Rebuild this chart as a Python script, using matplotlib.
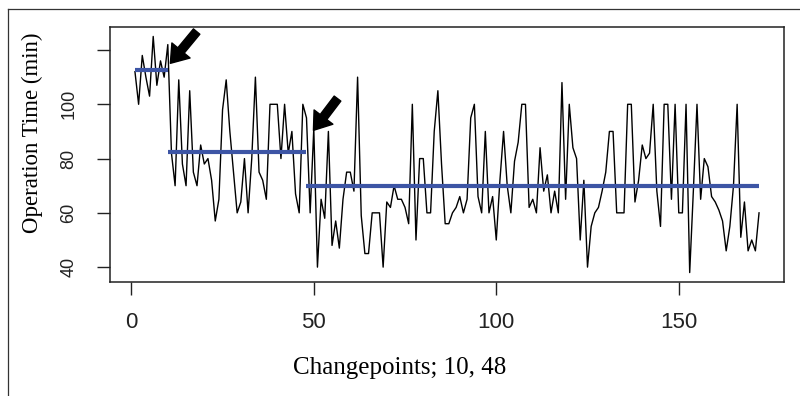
import matplotlib.pyplot as plt
import numpy as np
from matplotlib.lines import Line2D

# Operation time per case (min)
op_time = [
    112, 100, 118, 110, 103, 125, 107, 116, 110, 122,
    82, 70, 109, 78, 70, 105, 75, 70, 85, 78,
    80, 72, 57, 65, 98, 109, 90, 75, 60, 64,
    80, 60, 80, 110, 75, 72, 65, 100, 100, 100,
    80, 100, 82, 90, 67, 60, 100, 95, 60, 91,
    40, 65, 58, 90, 48, 57, 47, 65, 75, 75,
    68, 110, 59, 45, 45, 60, 60, 60, 40, 64,
    62, 70, 65, 65, 62, 56, 100, 50, 80, 80,
    60, 60, 90, 105, 78, 56, 56, 60, 62, 66,
    60, 65, 95, 100, 66, 60, 90, 60, 66, 50,
    72, 90, 70, 60, 79, 86, 100, 100, 62, 65,
    60, 84, 68, 74, 60, 68, 60, 108, 65, 100,
    84, 80, 50, 72, 40, 55, 60, 62, 68, 75,
    90, 90, 60, 60, 60, 100, 100, 64, 72, 85,
    80, 82, 100, 68, 55, 100, 100, 65, 100, 60,
    60, 100, 38, 68, 100, 65, 80, 77, 66, 64,
    61, 57, 46, 55, 70, 100, 51, 64, 46, 50,
    46, 60,
]

# segment means between changepoints 10 and 48
seg_start = [1, 10, 48]
seg_end = [10, 48, 172]
seg_mean = [112.8, 82.3, 69.9]

# arrows marking the changepoints: (tip x, tip y), (tail x, tail y)
arrow_tips = [(10.7, 115.1), (49.9, 90.4)]
arrow_tails = [(17.9, 126.8), (56.5, 102.1)]

x_ticks = [0, 50, 100, 150]
y_ticks = [40, 60, 80, 100, 120]
y_ticklabels = ['40', '60', '80', '100', '']

y = np.array(op_time)
x = np.arange(1, len(y) + 1)

fig = plt.figure(figsize=(8, 3.96), dpi=100)
ax = fig.add_axes([110 / 800, 1 - 282 / 396, 674 / 800, 255 / 396])

ax.plot(x, y, color='black', linewidth=1.0)
for s, e, m in zip(seg_start, seg_end, seg_mean):
    ax.plot([s, e], [m, m], color='#3d55a5', linewidth=3, solid_capstyle='butt')

for tip, tail in zip(arrow_tips, arrow_tails):
    ax.annotate('', xy=tip, xytext=tail,
                arrowprops=dict(facecolor='black', edgecolor='black',
                                width=6, headwidth=17, headlength=12))

# R-style axis extension (4% on each side)
xr = x.max() - x.min()
yr = y.max() - y.min()
ax.set_xlim(x.min() - 0.04 * xr, x.max() + 0.04 * xr)
ax.set_ylim(y.min() - 0.04 * yr, y.max() + 0.04 * yr)

ax.set_xticks(x_ticks)
ax.set_xticklabels([str(t) for t in x_ticks], fontsize=16, family='Liberation Sans')
ax.set_yticks(y_ticks)
ax.set_yticklabels(y_ticklabels, fontsize=13, family='Liberation Sans',
                   rotation=90, va='center')
ax.tick_params(axis='x', length=9.4, width=1, pad=12, colors='#222222')
ax.tick_params(axis='y', length=9.4, width=1, pad=14, colors='#222222')
for sp in ax.spines.values():
    sp.set_linewidth(1.1)
    sp.set_color('#222222')

fig.text(400 / 800, 1 - 368 / 396, 'Changepoints; 10, 48', ha='center', va='center',
         fontsize=18, family='Liberation Serif')
fig.text(32 / 800, 1 - 133 / 396, 'Operation Time (min)', ha='center', va='center',
         rotation=90, fontsize=16.5, family='Liberation Serif')

# outer frame of the screenshot
fig.add_artist(Line2D([7.5 / 800, 1], [1 - 9 / 396, 1 - 9 / 396], color='#333333', linewidth=0.9))
fig.add_artist(Line2D([7.5 / 800, 7.5 / 800], [0, 1 - 9 / 396], color='#333333', linewidth=0.9))

fig.savefig('out.png', dpi=100)
